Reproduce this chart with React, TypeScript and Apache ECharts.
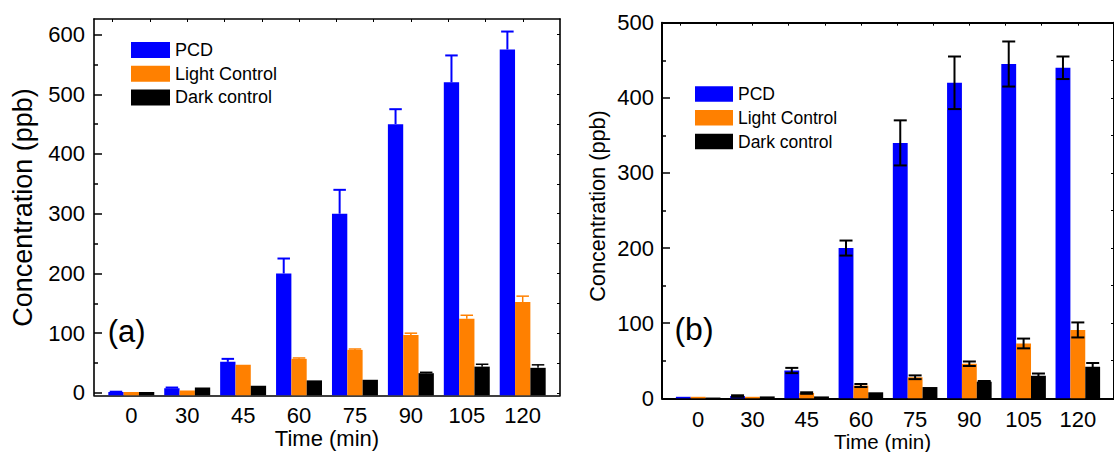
import React, { useEffect, useRef } from 'react';
import * as echarts from 'echarts';

// ---------------- data ----------------
const CATEGORIES = ['0', '30', '45', '60', '75', '90', '105', '120'];
const SERIES_NAMES = ['PCD', 'Light Control', 'Dark control'];
const COLORS = ['#0000ff', '#ff8000', '#000000'];

// panel (a)
const A_PCD = [1.5, 8, 52, 200, 300, 450, 520, 575];
const A_PCD_ERR = [0.5, 1, 5, 25, 40, 25, 45, 30];
const A_LIGHT = [1.5, 4, 47, 57, 72, 97, 124, 152];
const A_LIGHT_ERR = [0, 0, 0, 1.5, 1.5, 3, 6, 10];
const A_DARK = [1.5, 9, 12, 21, 22, 33, 44, 42];
const A_DARK_ERR = [0, 0, 0, 0, 0, 1.5, 4, 5];

// panel (b)
const B_PCD = [2, 3, 37, 200, 340, 420, 445, 440];
const B_PCD_ERR = [0, 1, 3.5, 10, 30, 35, 30, 15];
const B_LIGHT = [2, 2, 7, 17, 28, 46, 73, 91];
const B_LIGHT_ERR = [0, 0, 1, 2, 2.5, 3, 6.5, 10];
const B_DARK = [1, 2.5, 2.5, 8, 15, 22, 30, 42];
const B_DARK_ERR = [0, 0, 0, 0, 0, 1, 3, 5];

// tick labels
const Y_TICKS_A = [0, 100, 200, 300, 400, 500, 600];
const Y_MINOR_A = [50, 150, 250, 350, 450, 550];
const Y_TICKS_B = [0, 100, 200, 300, 400, 500];
const Y_MINOR_B = [50, 150, 250, 350, 450];

// ---------------- layout ----------------
const FONT = '"Liberation Sans", Arial, Helvetica, sans-serif';
const X_MIN = -0.667;
const X_MAX = 7.667;
const BAR_W = 0.274; // in category units
const TOP_TICK_START = -0.333;
const TOP_TICK_STEP = 0.6667;
const TOP_TICKS: number[] = [];
for (let t = TOP_TICK_START; t < X_MAX - 0.1; t += TOP_TICK_STEP) TOP_TICKS.push(+t.toFixed(3));

function barSeries(name: string, color: string, vals: number[], off: number, base: number, xi: number, yi: number) {
  return {
    type: 'custom',
    name,
    xAxisIndex: xi,
    yAxisIndex: yi,
    itemStyle: { color },
    encode: { x: 0, y: 1 },
    data: vals.map((v, i) => [i, v]),
    renderItem: (params: any, api: any) => {
      const i = api.value(0);
      const v = api.value(1);
      const p0 = api.coord([i + off - BAR_W / 2, base]);
      const p1 = api.coord([i + off + BAR_W / 2, v]);
      return {
        type: 'rect',
        shape: { x: p0[0], y: p1[1], width: p1[0] - p0[0], height: p0[1] - p1[1] },
        style: { fill: color },
      };
    },
  };
}

function errSeries(name: string, color: string, vals: number[], errs: number[], off: number, twoSided: boolean, lw: number, cap: number, xi: number, yi: number) {
  return {
    type: 'custom',
    name,
    xAxisIndex: xi,
    yAxisIndex: yi,
    itemStyle: { color },
    encode: { x: 0, y: 1 },
    z: 5,
    data: vals.map((v, i) => [i, v, errs[i]]),
    renderItem: (params: any, api: any) => {
      const i = api.value(0);
      const v = api.value(1);
      const e = api.value(2);
      if (!e) return { type: 'group', children: [] };
      const top = api.coord([i + off, v + e]);
      const bot = api.coord([i + off, twoSided ? v - e : v]);
      const st = { stroke: color, lineWidth: lw };
      const children: any[] = [
        { type: 'line', shape: { x1: top[0], y1: top[1], x2: bot[0], y2: bot[1] }, style: st },
        { type: 'line', shape: { x1: top[0] - cap / 2, y1: top[1], x2: top[0] + cap / 2, y2: top[1] }, style: st },
      ];
      if (twoSided) {
        children.push({ type: 'line', shape: { x1: bot[0] - cap / 2, y1: bot[1], x2: bot[0] + cap / 2, y2: bot[1] }, style: st });
      }
      return { type: 'group', children };
    },
  };
}

function panelAxes(gridIndex: number, yMin: number, yMax: number, major: number[], minor: number[], lw: number, xMargin: number, yMargin: number) {
  const line = { show: true, onZero: false, lineStyle: { color: '#000', width: lw } };
  const noLine = { show: false, onZero: false };
  const allTicks = [...major, ...minor].sort((a, b) => a - b);
  const xAxes = [
    {
      type: 'value', gridIndex, min: X_MIN, max: X_MAX, position: 'bottom',
      axisLine: line, axisTick: { show: false }, splitLine: { show: false },
      axisLabel: {
        customValues: CATEGORIES.map((_, i) => i),
        formatter: (v: number) => CATEGORIES[Math.round(v)],
        fontSize: 22, color: '#000', fontFamily: FONT, margin: xMargin,
      },
    },
    {
      type: 'value', gridIndex, min: X_MIN, max: X_MAX, position: 'top',
      axisLine: line,
      axisTick: { show: true, inside: true, length: 3, customValues: TOP_TICKS, lineStyle: { color: '#000', width: 1 } },
      axisLabel: { show: false }, splitLine: { show: false },
    },
  ];
  const yAxes = [
    {
      type: 'value', gridIndex, min: yMin, max: yMax, position: 'left',
      axisLine: line,
      axisTick: { show: true, inside: true, length: 8, customValues: major, lineStyle: { color: '#000', width: 1.5 } },
      axisLabel: { customValues: major, fontSize: 22, color: '#000', fontFamily: FONT, margin: yMargin },
      splitLine: { show: false },
    },
    {
      type: 'value', gridIndex, min: yMin, max: yMax, position: 'left',
      axisLine: noLine,
      axisTick: { show: true, inside: true, length: 4, customValues: minor, lineStyle: { color: '#000', width: 1.5 } },
      axisLabel: { show: false }, splitLine: { show: false },
    },
    {
      type: 'value', gridIndex, min: yMin, max: yMax, position: 'right',
      axisLine: line,
      axisTick: { show: true, inside: true, length: 3, customValues: allTicks, lineStyle: { color: '#000', width: 1 } },
      axisLabel: { show: false }, splitLine: { show: false },
    },
  ];
  return { xAxes, yAxes };
}

function legendFor(left: number, top: number, w: number, h: number, gap: number, fs: number) {
  return {
    data: SERIES_NAMES.map((n, k) => ({ name: n, icon: 'rect', itemStyle: { color: COLORS[k] } })),
    orient: 'vertical',
    left, top,
    itemWidth: w, itemHeight: h, itemGap: gap,
    padding: 0,
    selectedMode: false,
    textStyle: { fontSize: fs, fontFamily: FONT, color: '#000', lineHeight: h },
  };
}

export default function App() {
  const ref = useRef<HTMLDivElement>(null);
  useEffect(() => {
    document.body.style.margin = '0';
    const chart = echarts.init(ref.current!, null, { renderer: 'svg' });
    const A_MIN = -4;
    const A_MAX = 626;
    const B_MIN = 0;
    const B_MAX = 500;
    const a = panelAxes(0, A_MIN, A_MAX, Y_TICKS_A, Y_MINOR_A, 1.6, 9, 9);
    const b = panelAxes(1, B_MIN, B_MAX, Y_TICKS_B, Y_MINOR_B, 2, 10, 8);
    const offs = [-BAR_W, 0, BAR_W];
    const aVals = [A_PCD, A_LIGHT, A_DARK];
    const aErrs = [A_PCD_ERR, A_LIGHT_ERR, A_DARK_ERR];
    const bVals = [B_PCD, B_LIGHT, B_DARK];
    const bErrs = [B_PCD_ERR, B_LIGHT_ERR, B_DARK_ERR];
    const series: any[] = [];
    for (let k = 0; k < 3; k++) {
      series.push(barSeries(SERIES_NAMES[k], COLORS[k], aVals[k], offs[k], A_MIN, 0, 0));
      series.push(barSeries(SERIES_NAMES[k], COLORS[k], bVals[k], offs[k], B_MIN, 2, 3));
    }
    for (let k = 0; k < 3; k++) {
      series.push(errSeries(SERIES_NAMES[k], COLORS[k], aVals[k], aErrs[k], offs[k], false, k === 0 ? 2 : 1.5, 12.5, 0, 0));
      series.push(errSeries(SERIES_NAMES[k], '#000000', bVals[k], bErrs[k], offs[k], true, 2, 13, 2, 3));
    }
    const txt = (text: string, x: number, y: number, fs: number, rot = 0) => ({
      type: 'text', x, y, rotation: rot, silent: true,
      style: { text, fontSize: fs, fontFamily: FONT, fill: '#000', align: 'center', verticalAlign: 'middle' },
    });
    chart.setOption({
      animation: false,
      backgroundColor: '#ffffff',
      grid: [
        { left: 94, top: 19, width: 466, height: 376.3 },
        { left: 662, top: 22.7, width: 462, height: 375.6 },
      ],
      xAxis: [...a.xAxes, ...b.xAxes],
      yAxis: [...a.yAxes, ...b.yAxes],
      legend: [legendFor(131, 41, 39, 16, 5.7, 18), legendFor(695, 85, 38, 15.5, 5.8, 17.5)],
      series,
      graphic: [
        txt('Concentration (ppb)', 23, 207.5, 27, Math.PI / 2),
        txt('Concentration (ppb)', 597.5, 206, 21.7, Math.PI / 2),
        txt('Time (min)', 327, 438, 22),
        txt('Time (min)', 882.5, 441.5, 20.5),
        txt('(a)', 126.7, 331, 31),
        txt('(b)', 694, 328.5, 32),
      ],
    });
    return () => chart.dispose();
  }, []);
  return <div ref={ref} style={{ width: 1114, height: 452 }} />;
}
